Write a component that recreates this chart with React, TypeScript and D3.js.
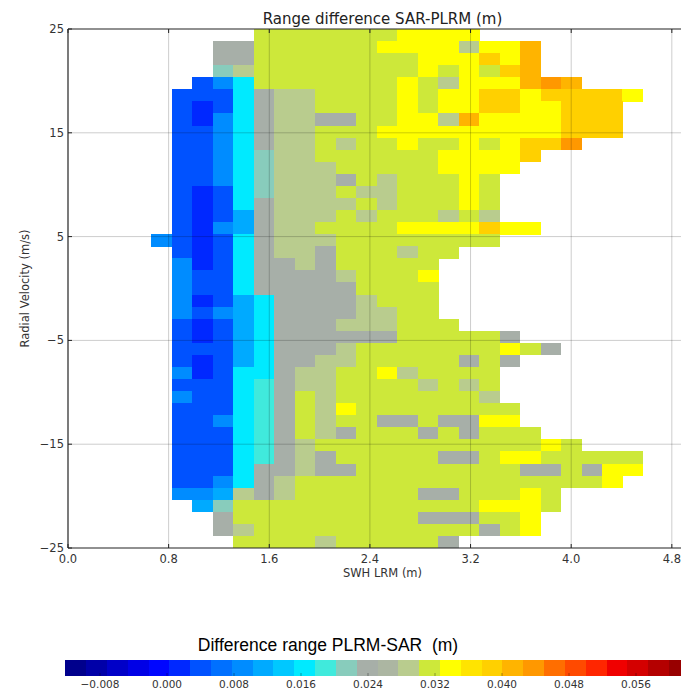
import React from "react";
import * as d3 from "d3";

// SWH LRM bin edges (m)
const swhEdges = [0.663, 0.826, 0.989, 1.151, 1.314, 1.477, 1.64, 1.803, 1.965, 2.128, 2.291, 2.454, 2.617, 2.779, 2.942, 3.105, 3.268, 3.431, 3.593, 3.756, 3.919, 4.082, 4.245, 4.407, 4.57];
// Radial velocity bin edges (m/s), top to bottom
const velEdges = [25.0, 23.84, 22.67, 21.51, 20.35, 19.19, 18.02, 16.86, 15.7, 14.53, 13.37, 12.21, 11.05, 9.88, 8.72, 7.56, 6.4, 5.23, 4.07, 2.91, 1.74, 0.58, -0.58, -1.74, -2.91, -4.07, -5.23, -6.4, -7.56, -8.72, -9.88, -11.05, -12.21, -13.37, -14.53, -15.7, -16.86, -18.02, -19.19, -20.35, -21.51, -22.67, -23.84, -25.0];
// cell level codes per row ('.' = no data)
const cellRows = [
  ".....YYYYYYYyyyy........",
  "...GGYYYYYYyyyygyyO.....",
  "...GGYYYYYYYYyyyoyO.....",
  "...AgYYYYYYYYyYyYoO.....",
  "..BLCYYYYYYYyYgyyyORO...",
  ".BBBCGggYYYYyYyyooyooooy",
  ".BNBCGggYYYYyYyyooyyooo.",
  ".BNLCGggGGYYyygOyyyyooo.",
  ".BBLCGggYYYyyyyyyyyyooo.",
  ".BBLCGggYgYYyYYyYyooR...",
  ".BBLCAggYYYYYYyyyyo.....",
  ".BBLCAgggYYYYYyyyy......",
  ".BBLCAgggGYgYYYyY.......",
  ".BNBCAgggYggYYYyY.......",
  ".BNBCGggggYgYYYyY.......",
  ".BNBlGgggYgYYYgYg.......",
  ".BNLlGggYYYYyyyyoyy.....",
  "LBNBCGgggYYYYYYYY.......",
  ".BNBCGggGYYYgYY.........",
  ".LNBCGGgGYYYYY..........",
  ".LBBCGGGGgYYYy..........",
  ".LBBCGGGGGYYYY..........",
  ".LNBlCGGGGgYYY..........",
  ".LBLlCGGGGggYY..........",
  ".BNBlCGGGgggYYY.........",
  ".BNBlCGGGGGGYYYYYG......",
  ".BBBlCGGGgYYYYYYYyYG....",
  ".BNBlCGGggYYYYYGYG......",
  ".LNBCCGggYYygYYYY.......",
  ".BBBCaGggYYYYgYgY.......",
  ".LBBCaGYgYYYYYYYg.......",
  ".BBBCaGYgyYYYYYYYY......",
  ".BBLCaGYgYYGGYGGyy......",
  ".BBBCaGYgGYYYGYGYYY.....",
  ".BBBCaGgYYYYYYYYYYYyY...",
  ".BBBCaGgGYYYYYGGYyyYYYYY",
  ".BBBCGGgGGYYYYYYYYGGYGyy",
  ".BBLCGgYYYYYYYYYYYYYYYy.",
  ".LLlgGgYYYYYYGGYYYyY....",
  "..lAYYYYYYYYYYYYyyyY....",
  "...GYYYYYYYYYGGGYYy.....",
  "...GgYYYYYYYYYYYGYy.....",
  "....YYYYgYYYYYG.........",
];
const levelCodes = ["N", "B", "L", "l", "c", "C", "a", "A", "G", "g", "Y", "y", "o", "O", "R"];
const levelValues = [0.00153, 0.00401, 0.00898, 0.01147, 0.01395, 0.01644, 0.01892, 0.02141, 0.0239, 0.02887, 0.03135, 0.03384, 0.0388, 0.04129, 0.04378];

const cbarEdges = [-0.01214, -0.00966, -0.00717, -0.00469, -0.0022, 0.00028, 0.00277, 0.00525, 0.00774, 0.01022, 0.01271, 0.01519, 0.01768, 0.02017, 0.02265, 0.02514, 0.02762, 0.03011, 0.03259, 0.03508, 0.03756, 0.04005, 0.04253, 0.04502, 0.04751, 0.04999, 0.05248, 0.05496, 0.05745, 0.05993, 0.06242, 0.0649];
const cbarColors = ["#00008c", "#0000a8", "#0000c8", "#0000e6", "#0006ff", "#0028ff", "#0052ff", "#0070ff", "#008cff", "#00aaff", "#00c8ff", "#00eaff", "#40eadc", "#88ccbc", "#a7afa8", "#acb6a2", "#b9cc8e", "#cde83a", "#ffff00", "#ffe400", "#ffd000", "#ffb400", "#ff9800", "#ff6e00", "#ff4a00", "#ff2600", "#f00000", "#d40000", "#b40000", "#980000", "#800000"];

const xTicks = [0, 0.8, 1.6, 2.4, 3.2, 4.0, 4.8];
const yTicks = [-25, -15, -5, 5, 15, 25];
const cbarTicks = [-0.008, 0, 0.008, 0.016, 0.024, 0.032, 0.04, 0.048, 0.056];

export default function App() {
  const W = 681, H = 690;
  const L = 68, R = 697, T = 29, B = 548;
  const x = d3.scaleLinear().domain([0, 5.0]).range([L, R]);
  const y = d3.scaleLinear().domain([-25, 25]).range([B, T]);
  const color = d3.scaleThreshold<number, string>().domain(cbarEdges.slice(1, -1)).range(cbarColors);
  const cx = d3.scaleLinear().domain([-0.008, 0.056]).range([100, 636]);
  const fx = d3.format(".1f");
  const fy = d3.format("d");
  const fc = d3.format(".3f");

  const cells: { i: number; j: number; v: number }[] = [];
  cellRows.forEach((row, j) =>
    row.split("").forEach((ch, i) => {
      const k = levelCodes.indexOf(ch);
      if (k >= 0) cells.push({ i, j, v: levelValues[k] });
    })
  );

  const cbY = 660, cbH = 16;
  const font = "DejaVu Sans, sans-serif";

  return (
    <svg width={W} height={H} style={{ position: "absolute", left: 0, top: 0, background: "#fff" }} fontFamily={font}>
      <rect x={0} y={0} width={W} height={H} fill="#fff" />
      <g shapeRendering="crispEdges">
        {cells.map((c) => {
          const x0 = x(swhEdges[c.i]);
          const x1 = x(swhEdges[c.i + 1]);
          const y0 = y(velEdges[c.j]);
          const y1 = y(velEdges[c.j + 1]);
          return <rect key={c.i + "-" + c.j} x={x0} y={y0} width={x1 - x0 + 0.4} height={y1 - y0 + 0.4} fill={color(c.v)} />;
        })}
      </g>
      {/* grid */}
      <g stroke="#000" strokeOpacity={0.2} strokeWidth={1}>
        {xTicks.slice(1).map((t) => (
          <line key={"gx" + t} x1={x(t)} x2={x(t)} y1={T} y2={B} />
        ))}
        {yTicks.slice(1, -1).map((t) => (
          <line key={"gy" + t} x1={L} x2={R} y1={y(t)} y2={y(t)} />
        ))}
      </g>
      {/* spines */}
      <g stroke="#222" strokeWidth={1.2} fill="none">
        <line x1={L} x2={L} y1={T} y2={B} />
        <line x1={L} x2={R} y1={B} y2={B} />
        <line x1={L} x2={R} y1={T} y2={T} />
        <line x1={R} x2={R} y1={T} y2={B} />
      </g>
      {/* ticks */}
      <g stroke="#222" strokeWidth={1}>
        {xTicks.map((t) => (
          <g key={"tx" + t}>
            <line x1={x(t)} x2={x(t)} y1={B} y2={B - 4} />
            <line x1={x(t)} x2={x(t)} y1={T} y2={T + 4} />
          </g>
        ))}
        {yTicks.map((t) => (
          <line key={"ty" + t} x1={L} x2={L + 4} y1={y(t)} y2={y(t)} />
        ))}
      </g>
      <g fontSize={11.5} fill="#333">
        {xTicks.map((t) => (
          <text key={"lx" + t} x={x(t)} y={B + 15} textAnchor="middle">{fx(t)}</text>
        ))}
        {yTicks.map((t) => (
          <text key={"ly" + t} x={L - 4} y={y(t)} dy="0.35em" textAnchor="end">{fy(t)}</text>
        ))}
      </g>
      <text x={(L + R) / 2} y={24} textAnchor="middle" fontSize={15} fill="#222">Range difference SAR-PLRM (m)</text>
      <text x={(L + R) / 2} y={577} textAnchor="middle" fontSize={11.5} fill="#333">SWH LRM (m)</text>
      <text transform={`translate(29,${(T + B) / 2}) rotate(-90)`} textAnchor="middle" fontSize={11.5} fill="#333">Radial Velocity (m/s)</text>

      {/* colorbar */}
      <text x={328} y={651} textAnchor="middle" fontSize={17.5} fontFamily="Liberation Sans, Arial, sans-serif" fill="#000" style={{ whiteSpace: "pre" }}>{"Difference range PLRM-SAR  (m)"}</text>
      <g shapeRendering="crispEdges">
        {cbarColors.map((c, k) => {
          const x0 = cx(cbarEdges[k]);
          const x1 = cx(cbarEdges[k + 1]);
          return <rect key={"cb" + k} x={x0} y={cbY} width={x1 - x0 + 0.5} height={cbH} fill={color((cbarEdges[k] + cbarEdges[k + 1]) / 2)} />;
        })}
      </g>
      <g stroke="#000" strokeOpacity={0.35}>
        {cbarTicks.map((t) => (
          <line key={"ct" + t} x1={cx(t)} x2={cx(t)} y1={cbY + cbH} y2={cbY + cbH - 3} />
        ))}
      </g>
      <g fontSize={10.5} fill="#333">
        {cbarTicks.map((t) => (
          <text key={"cl" + t} x={cx(t)} y={688} textAnchor="middle">{fc(t)}</text>
        ))}
      </g>
    </svg>
  );
}
